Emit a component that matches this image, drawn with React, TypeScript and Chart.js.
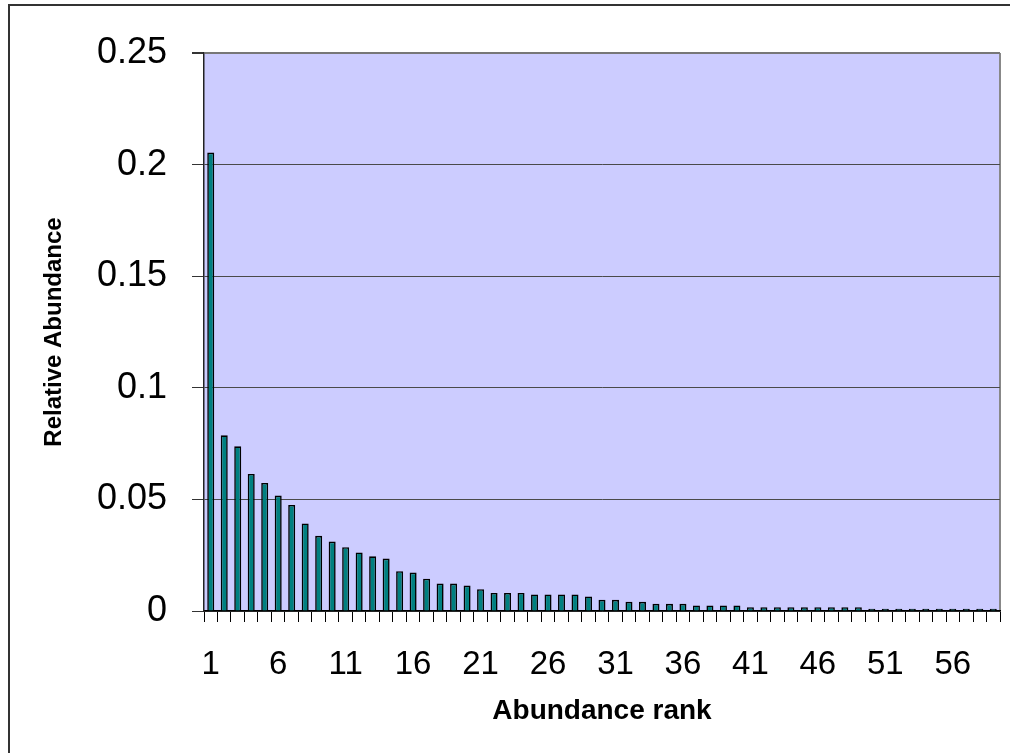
import React, { useEffect, useRef } from "react";
import { Chart, registerables } from "chart.js";

Chart.register(...registerables);

// Abundance ranks 1..59
const ranks: string[] = [
  "1", "2", "3", "4", "5", "6", "7", "8", "9", "10",
  "11", "12", "13", "14", "15", "16", "17", "18", "19", "20",
  "21", "22", "23", "24", "25", "26", "27", "28", "29", "30",
  "31", "32", "33", "34", "35", "36", "37", "38", "39", "40",
  "41", "42", "43", "44", "45", "46", "47", "48", "49", "50",
  "51", "52", "53", "54", "55", "56", "57", "58", "59",
];

// Relative abundance per rank
const relativeAbundance: number[] = [
  0.2054, 0.0787, 0.0738, 0.0614, 0.0574, 0.0517, 0.0475, 0.0392, 0.0337, 0.0311,
  0.0286, 0.0262, 0.0245, 0.0235, 0.0178, 0.0172, 0.0145, 0.0123, 0.0123, 0.0114,
  0.0098, 0.0081, 0.0081, 0.0081, 0.0074, 0.0074, 0.0074, 0.0074, 0.0065, 0.0050,
  0.0050, 0.0041, 0.0041, 0.0032, 0.0032, 0.0032, 0.0025, 0.0025, 0.0025, 0.0025,
  0.0017, 0.0017, 0.0017, 0.0017, 0.0017, 0.0017, 0.0017, 0.0017, 0.0017, 0.0010,
  0.0010, 0.0010, 0.0010, 0.0010, 0.0010, 0.0010, 0.0010, 0.0010, 0.0010,
];

const yTicks: number[] = [0, 0.05, 0.1, 0.15, 0.2, 0.25];

const FONT = "'Liberation Sans', Arial, Helvetica, sans-serif";

// Page background, outer frame, and the lavender plot area
const frameAndBackground = {
  id: "frameAndBackground",
  beforeDraw(chart: Chart) {
    const { ctx, chartArea, width, height } = chart;
    ctx.save();
    ctx.fillStyle = "#ffffff";
    ctx.fillRect(0, 0, width, height);
    ctx.strokeStyle = "#333333";
    ctx.lineWidth = 2;
    ctx.beginPath();
    ctx.moveTo(9, height);
    ctx.lineTo(9, 5);
    ctx.lineTo(width, 5);
    ctx.stroke();
    ctx.fillStyle = "#ccccff";
    ctx.fillRect(chartArea.left, chartArea.top, chartArea.right - chartArea.left, chartArea.bottom - chartArea.top);
    ctx.strokeStyle = "#888888";
    ctx.lineWidth = 2;
    ctx.beginPath();
    ctx.moveTo(chartArea.right, chartArea.top);
    ctx.lineTo(chartArea.right, chartArea.bottom);
    ctx.stroke();
    ctx.restore();
  },
};

export default function App() {
  const canvasRef = useRef<HTMLCanvasElement | null>(null);

  useEffect(() => {
    if (!canvasRef.current) return;
    const chart = new Chart(canvasRef.current, {
      type: "bar",
      data: {
        labels: ranks,
        datasets: [
          {
            data: relativeAbundance,
            backgroundColor: "#008080",
            borderColor: "#000000",
            borderWidth: 1.6,
            barPercentage: 0.52,
            categoryPercentage: 1,
          },
        ],
      },
      options: {
        responsive: false,
        animation: false,
        events: [],
        layout: { padding: { left: 0, top: 53, right: 10, bottom: 25 } },
        plugins: {
          legend: { display: false },
          tooltip: { enabled: false },
        },
        scales: {
          x: {
            grid: {
              display: true,
              offset: true,
              drawOnChartArea: false,
              tickLength: 11,
              tickColor: "#000000",
              tickWidth: 1,
            },
            border: { display: true, color: "#000000", width: 1.5 },
            ticks: {
              autoSkip: false,
              maxRotation: 0,
              padding: 23,
              color: "#000000",
              font: { family: FONT, size: 33 },
              callback: (_v: any, i: number) => (i % 5 === 0 ? ranks[i] : ""),
            },
            title: {
              display: true,
              text: "Abundance rank",
              color: "#000000",
              font: { family: FONT, size: 28, weight: "bold" },
              padding: { top: 0, bottom: 0 },
            },
            afterFit: (scale: any) => {
              scale.height = 117;
              scale.paddingLeft = 0;
              scale.paddingRight = 0;
            },
          },
          y: {
            min: 0,
            max: 0.25,
            afterBuildTicks: (scale: any) => {
              scale.ticks = yTicks.map((v) => ({ value: v }));
            },
            grid: {
              color: (c: any) => (c.tick && c.tick.value === 0.25 ? "#777777" : "#4a4a4a"),
              lineWidth: (c: any) => (c.tick && c.tick.value === 0.25 ? 2 : 1),
              tickLength: 12,
              tickColor: "#333333",
            },
            border: { display: true, color: "#222222", width: 1.5 },
            ticks: {
              padding: 25,
              color: "#000000",
              font: { family: FONT, size: 36 },
              callback: (v: any) => String(Number(Number(v).toFixed(2))),
            },
            title: {
              display: true,
              text: "Relative Abundance",
              color: "#000000",
              font: { family: FONT, size: 24, weight: "bold" },
              padding: { top: 40, bottom: 0 },
            },
            afterFit: (scale: any) => {
              scale.width = 204;
              scale.paddingTop = 0;
              scale.paddingBottom = 0;
            },
          },
        },
      },
      plugins: [frameAndBackground],
    });
    return () => chart.destroy();
  }, []);

  return (
    <div style={{ position: "absolute", left: 0, top: 0, width: 1010, height: 753 }}>
      <canvas ref={canvasRef} width={1010} height={753} style={{ display: "block" }} />
    </div>
  );
}
